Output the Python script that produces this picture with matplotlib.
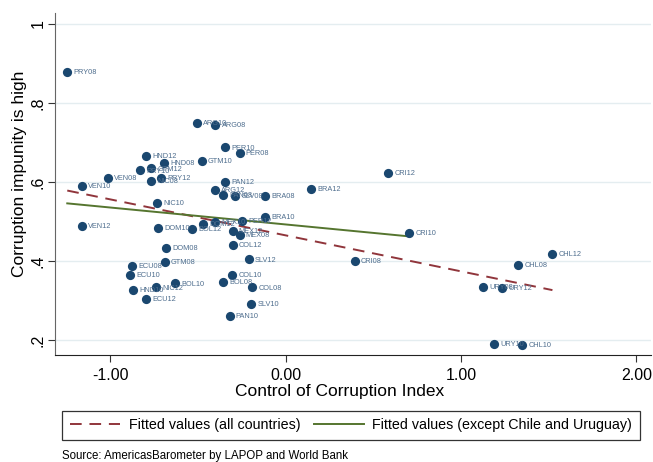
import matplotlib
matplotlib.use("Agg")
import matplotlib.pyplot as plt
import numpy as np
from matplotlib.lines import Line2D

plt.rcParams["font.family"] = ["Liberation Sans", "DejaVu Sans"]

# Control of corruption (WB) vs share saying impunity is high (LAPOP)
paises = ["PRY08", "ARG10", "ARG08", "PER10", "PER08", "HND12", "HND08", "GTM10",
          "PRY10", "GTM12", "VEN08", "VEN10", "NIC08", "PRY12", "PAN12", "ARG12",
          "PAN08", "SLV08", "BRA08", "BRA12", "CRI12", "BRA10", "BOL12", "DOM12",
          "MEX10", "PER12", "MEX12", "MEX08", "COL12", "SLV12", "NIC10", "VEN12",
          "DOM10", "DOM08", "GTM08", "ECU08", "ECU10", "HND10", "NIC12", "BOL10",
          "ECU12", "COL10", "BOL08", "COL08", "SLV10", "PAN10", "CRI08", "CRI10",
          "CHL12", "CHL08", "URY08", "URY12", "URY10", "CHL10"]
control = [-1.246, -0.505, -0.401, -0.344, -0.263, -0.797, -0.695, -0.480,
           -0.832, -0.766, -1.014, -1.161, -0.766, -0.713, -0.344, -0.403,
           -0.356, -0.287, -0.118, 0.146, 0.585, -0.118, -0.535, -0.471,
           -0.403, -0.251, -0.303, -0.263, -0.303, -0.212, -0.733, -1.163,
           -0.726, -0.682, -0.690, -0.877, -0.889, -0.872, -0.739, -0.633,
           -0.796, -0.306, -0.357, -0.192, -0.198, -0.320, 0.393, 0.703,
           1.521, 1.327, 1.124, 1.236, 1.189, 1.348]
impunidad = [0.878, 0.750, 0.745, 0.688, 0.674, 0.666, 0.648, 0.653,
             0.630, 0.635, 0.610, 0.590, 0.604, 0.610, 0.601, 0.581,
             0.568, 0.565, 0.565, 0.584, 0.623, 0.513, 0.482, 0.494,
             0.499, 0.503, 0.477, 0.467, 0.441, 0.405, 0.547, 0.490,
             0.485, 0.434, 0.398, 0.389, 0.366, 0.328, 0.334, 0.344,
             0.304, 0.365, 0.347, 0.334, 0.293, 0.262, 0.402, 0.472,
             0.419, 0.391, 0.335, 0.332, 0.191, 0.188]

y_ticks = [0.2, 0.4, 0.6, 0.8, 1.0]
y_ticklabels = [".2", ".4", ".6", ".8", "1"]
x_ticks = [-1, 0, 1, 2]
x_ticklabels = ["-1.00", "0.00", "1.00", "2.00"]

NAVY = "#1A476F"
MAROON = "#90353B"
VERDE = "#55752F"

x = np.array(control)
y = np.array(impunidad)
sin_chl_ury = np.array([not (p.startswith("CHL") or p.startswith("URY")) for p in paises])


def recta(xs, ys):
    b, a = np.polyfit(xs, ys, 1)
    xr = np.array([xs.min(), xs.max()])
    return xr, a + b * xr


fig = plt.figure(figsize=(6.53, 4.62), dpi=100)
ax = fig.add_axes([0.0842, 0.2316, 0.9127, 0.7403])

for v in y_ticks:
    ax.axhline(v, color="#E4EDF0", lw=1.0, zorder=0)

ax.scatter(x, y, s=44, color=NAVY, zorder=3, linewidths=0)
for p, xi, yi in zip(paises, x, y):
    ax.annotate(p, (xi, yi), xytext=(4.5, -0.5), textcoords="offset points",
                fontsize=5.3, color="#4F6E8E", va="center", ha="left", zorder=4)

xr, yr = recta(x, y)
ax.plot(xr, yr, color=MAROON, lw=1.4, dashes=(6, 4), zorder=2)
xr, yr = recta(x[sin_chl_ury], y[sin_chl_ury])
ax.plot(xr, yr, color=VERDE, lw=1.4, zorder=2)

ax.set_xlim(-1.316, 2.083)
ax.set_ylim(0.163, 1.028)
ax.set_yticks(y_ticks, y_ticklabels, rotation=90, va="center", fontsize=11.5)
ax.set_xticks(x_ticks, x_ticklabels, fontsize=11.5)
ax.tick_params(axis="both", direction="out", length=5, width=0.8, color="#333333")
ax.tick_params(axis="y", pad=2)
ax.tick_params(axis="x", pad=4)
for lado in ["top", "right"]:
    ax.spines[lado].set_visible(False)
ax.spines["left"].set_color("#666666")
ax.spines["bottom"].set_color("#222222")
ax.set_xlabel("Control of Corruption Index", fontsize=12.5)
ax.set_ylabel("Corruption impunity is high", fontsize=12.5)
ax.xaxis.set_label_coords(0.478, -0.085)
ax.yaxis.set_label_coords(-0.047, 0.529)

handles = [Line2D([], [], color=MAROON, lw=1.4, dashes=(6, 4)),
           Line2D([], [], color=VERDE, lw=1.4)]
leg = fig.legend(handles, ["Fitted values (all countries)",
                           "Fitted values (except Chile and Uruguay)"],
                 loc="center", ncol=2, mode="expand", fontsize=10.3,
                 bbox_to_anchor=(62 / 653, 1 - 441 / 462, 578 / 653, 31 / 462),
                 frameon=True, fancybox=False, edgecolor="black",
                 handlelength=3.5, handletextpad=0.6, borderpad=0.55,
                 borderaxespad=0, columnspacing=1.5)
leg.get_frame().set_linewidth(0.9)

fig.text(62 / 653, 1 - 456 / 462, "Source: AmericasBarometer by LAPOP and World Bank",
         fontsize=8.3, va="center", ha="left")

fig.savefig("out.png", dpi=100)
